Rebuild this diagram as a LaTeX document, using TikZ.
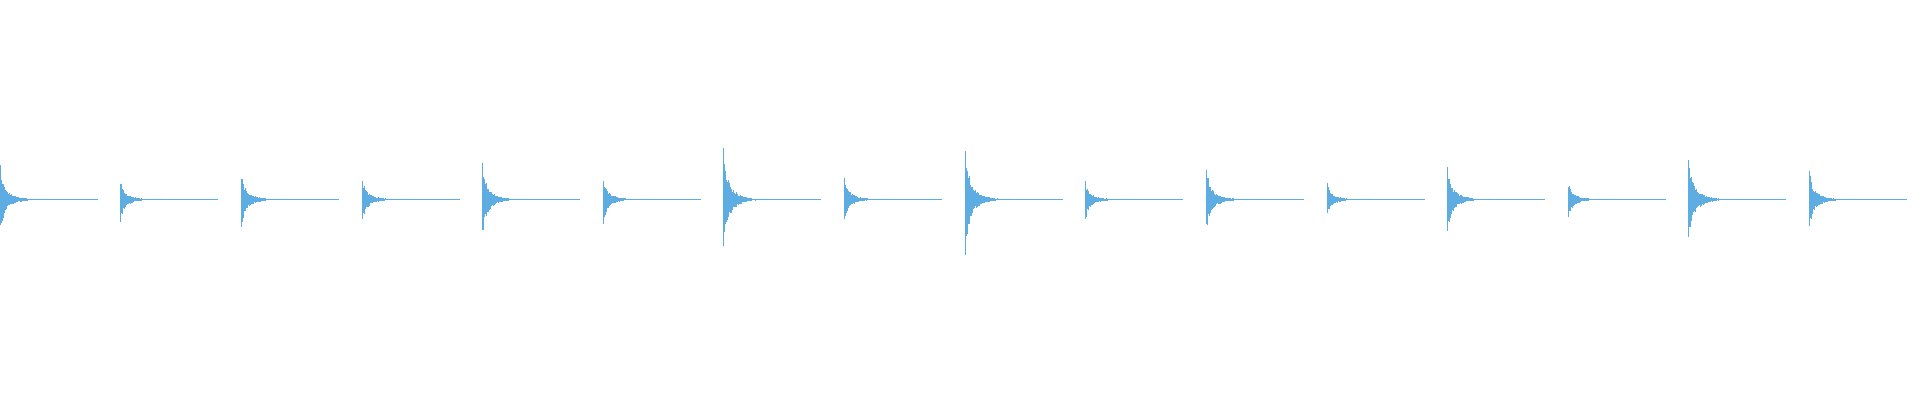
\documentclass[tikz,border=0pt]{standalone}
\definecolor{wave}{HTML}{5DADE2}
\tikzset{bar/.style={wave,line width=0.012cm},tail/.style={wave,line width=0.01cm,dash pattern=on 20pt off 1.5pt on 6pt off 2pt on 10pt off 1pt}}
\begin{document}
\begin{tikzpicture}[x=0.01cm,y=-0.01cm]
  \useasboundingbox (0,0) rectangle (1920,400);
  \pgfmathsetseed{7}
  % x0/top/bottom of each hit
  \foreach \xo/\a/\b in {0/36/37,120/22/25,241/29/31,362/23/25,482/42/43,603/23/26,723/57/59,844/25/25,965/57/59,1085/19/23,1206/35/37,1327/17/18,1447/39/38,1568/19/21,1688/52/53,1809/32/34}{
    \foreach \k in {0,...,45}{
      \pgfmathsetmacro\u{max(0.8,\a*(0.55*exp(-\k/2.5)+0.45*exp(-\k/10))*(0.65+0.35*rnd))}
      \pgfmathsetmacro\d{max(0.8,\b*(0.55*exp(-\k/2.5)+0.45*exp(-\k/10))*(0.65+0.35*rnd))}
      \draw[bar] (\xo+\k+0.5,199.5-\u) -- (\xo+\k+0.5,199.5+\d);
    }
    \draw[tail] (\xo+45,199.5) -- (\xo+98,199.5);
  }
\end{tikzpicture}
\end{document}
